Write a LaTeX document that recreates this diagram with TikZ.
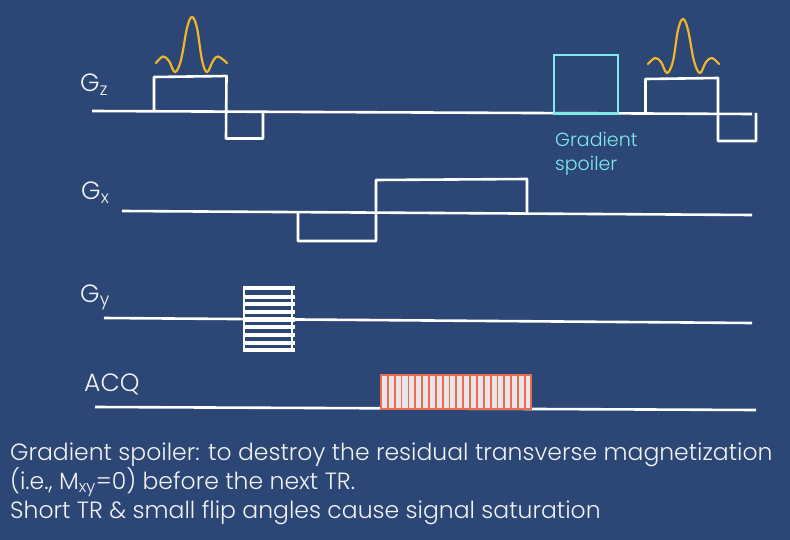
\documentclass[tikz,border=0pt]{standalone}
\usepackage{fontspec}
\setmainfont{Poppins Light}
\usepackage{xcolor}
\definecolor{slide-blue}{HTML}{2C4776}
\definecolor{pulse-gold}{HTML}{EDB62D}
\definecolor{spoiler-cyan}{HTML}{7FE9EC}
\definecolor{acq-red}{HTML}{EE6A50}
\definecolor{acq-fill}{HTML}{E6E6E6}
\definecolor{soft-white}{HTML}{F2F2F2}
\tikzset{
  gradline/.style={draw=white, line width=2.6pt, line join=round},
  rfpulse/.style={draw=pulse-gold, line width=2.2pt, line cap=round},
  axislabel/.style={text=soft-white, inner sep=0pt, anchor=base west, font=\fontsize{25}{27}\selectfont},
}
\begin{document}
\begin{tikzpicture}[x=1pt, y=-1pt]
    \useasboundingbox[fill=slide-blue] (0,0) rectangle (790,540);
    % Gz
    \node[axislabel] (gz) at (80,92) {G\textsubscript{z}};
    \draw[gradline] (92,111) -- (752,114);
    \draw[gradline] (154,110) -- (154,77) -- (226.5,76) -- (226,138.5) -- (263,138.5) -- (263,112);
    \draw[gradline] (645.5,112) -- (645.5,79) -- (718,78) -- (718,141) -- (756,141) -- (756,113);
    \draw[rfpulse] plot[smooth, tension=0.6] coordinates {(156,63) (163,56.5) (169,61) (175,72) (181,60) (187,28) (192,17) (197,28) (202,60) (207,72) (213,61) (218,56.5) (227,63)};
    \draw[rfpulse] plot[smooth, tension=0.6] coordinates {(648,64) (655,58) (661,62) (667,73) (673,61) (678,30) (683,19) (688,30) (694,61) (700,73) (706,62) (712,58) (719,64)};
    \draw[draw=spoiler-cyan, line width=2.6pt] (554,113.5) rectangle (618,55);
    \node[text=spoiler-cyan, inner sep=0pt, align=left, anchor=north west,
      font=\fontsize{19}{24}\selectfont] (spoiler) at (555,132) {Gradient\\spoiler};
    % Gx
    \node[axislabel] (gx) at (81,200) {G\textsubscript{x}};
    \draw[gradline] (122,211) -- (752,215);
    \draw[gradline] (298,213) -- (298,241) -- (376,241) -- (376,180) -- (527,179) -- (527,214);
    % Gy
    \node[axislabel] (gy) at (80,302) {G\textsubscript{y}};
    \draw[gradline] (104,318) -- (752,323);
    \foreach \ypos in {288,297,304,312,327,335,343,350}
      \draw[white, line width=3.2pt] (243,\ypos) -- (295,\ypos);
    \draw[white, line width=5pt] (243,319.5) -- (295,319.5);
    \draw[gradline] (244,288) -- (244,351);
    \draw[gradline] (292,288) -- (292,351);
    % ACQ
    \node[axislabel] (acq) at (84,391) {ACQ};
    \draw[gradline] (95,407) -- (756,410);
    \fill[acq-fill] (381,375) rectangle (531,409);
    \foreach \i in {1,...,21}
      \draw[acq-red, line width=1.8pt] (381+6.85*\i,375) -- (381+6.85*\i,409);
    \draw[acq-red, line width=2.6pt] (381,375) rectangle (531,409);
    % note
    \node[text=soft-white, inner sep=0pt, align=left, anchor=base west,
      font=\fontsize{23.5}{29}\selectfont] (note) at (10,518)
      {Gradient spoiler: to destroy the residual transverse magnetization\\
       (i.e., M\textsubscript{xy}=0) before the next TR.\\
       Short TR \& small flip angles cause signal saturation};
  \end{tikzpicture}
\end{document}
